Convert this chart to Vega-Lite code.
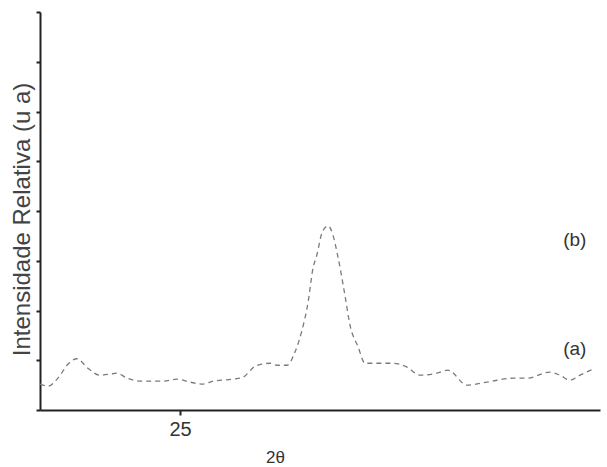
{
  "$schema": "https://vega.github.io/schema/vega-lite/v6.json",
  "autosize": "none",
  "width": 560,
  "height": 398,
  "padding": {"left": 40, "top": 12, "right": 7, "bottom": 57},
  "background": "white",
  "config": {"view": {"stroke": null}, "font": "Liberation Sans"},
  "layer": [
    {
      "data": {"values": [
        {"x": 20.0, "y": 0.52}, {"x": 20.29, "y": 0.48}, {"x": 20.64, "y": 0.64}, {"x": 21.0, "y": 0.92},
        {"x": 21.32, "y": 1.03}, {"x": 21.71, "y": 0.84}, {"x": 22.14, "y": 0.70}, {"x": 22.5, "y": 0.72},
        {"x": 22.75, "y": 0.74}, {"x": 23.11, "y": 0.64}, {"x": 23.57, "y": 0.58}, {"x": 24.39, "y": 0.58},
        {"x": 24.89, "y": 0.62}, {"x": 25.36, "y": 0.56}, {"x": 25.82, "y": 0.52}, {"x": 26.18, "y": 0.58},
        {"x": 26.89, "y": 0.62}, {"x": 27.25, "y": 0.66}, {"x": 27.68, "y": 0.88}, {"x": 27.93, "y": 0.92},
        {"x": 28.21, "y": 0.94}, {"x": 28.46, "y": 0.90}, {"x": 28.82, "y": 0.90}, {"x": 29.11, "y": 1.17},
        {"x": 29.36, "y": 1.61}, {"x": 29.57, "y": 2.15}, {"x": 29.75, "y": 2.85}, {"x": 29.89, "y": 3.12},
        {"x": 30.07, "y": 3.56}, {"x": 30.29, "y": 3.70}, {"x": 30.46, "y": 3.52}, {"x": 30.64, "y": 3.08},
        {"x": 30.89, "y": 2.31}, {"x": 31.07, "y": 1.71}, {"x": 31.36, "y": 1.27}, {"x": 31.61, "y": 0.94},
        {"x": 32.14, "y": 0.94}, {"x": 32.61, "y": 0.94}, {"x": 33.11, "y": 0.86}, {"x": 33.57, "y": 0.70},
        {"x": 34.18, "y": 0.74}, {"x": 34.57, "y": 0.80}, {"x": 35.25, "y": 0.50}, {"x": 35.96, "y": 0.56},
        {"x": 36.89, "y": 0.64}, {"x": 37.39, "y": 0.64}, {"x": 38.21, "y": 0.76}, {"x": 38.57, "y": 0.70},
        {"x": 38.93, "y": 0.60}, {"x": 39.29, "y": 0.70}, {"x": 39.82, "y": 0.84}
      ]},
      "mark": {"type": "line", "interpolate": "monotone", "color": "#7a7a7a", "strokeWidth": 1.3, "strokeDash": [5, 4]},
      "encoding": {
        "x": {
          "field": "x", "type": "quantitative",
          "scale": {"domain": [20, 40], "nice": false, "zero": false},
          "axis": {
            "title": "2θ", "values": [25], "grid": false,
            "domainColor": "#222", "domainWidth": 2, "tickColor": "#222", "tickWidth": 2, "tickSize": 5,
            "labelFontSize": 20, "labelColor": "#333", "labelPadding": 4,
            "titleFontSize": 17, "titleFontWeight": "normal", "titleColor": "#333", "titlePadding": 10,
            "titleX": 235, "titleAlign": "center"
          }
        },
        "y": {
          "field": "y", "type": "quantitative",
          "scale": {"domain": [0, 8], "nice": false},
          "axis": {
            "title": "Intensidade Relativa (u a)", "values": [0, 1, 2, 3, 4, 5, 6, 7, 8], "labels": false, "grid": false,
            "domainColor": "#222", "domainWidth": 2, "tickColor": "#222", "tickWidth": 2, "tickSize": 4,
            "titleFontSize": 24, "titleFontWeight": "normal", "titleColor": "#444", "titlePadding": 1,
            "titleY": 207
          }
        }
      }
    },
    {
      "data": {"values": [
        {"x": 39.1, "y": 3.42, "label": "(b)"},
        {"x": 39.1, "y": 1.22, "label": "(a)"}
      ]},
      "mark": {"type": "text", "fontSize": 19, "color": "#333", "align": "center", "baseline": "middle"},
      "encoding": {
        "x": {"field": "x", "type": "quantitative"},
        "y": {"field": "y", "type": "quantitative"},
        "text": {"field": "label"}
      }
    }
  ]
}
